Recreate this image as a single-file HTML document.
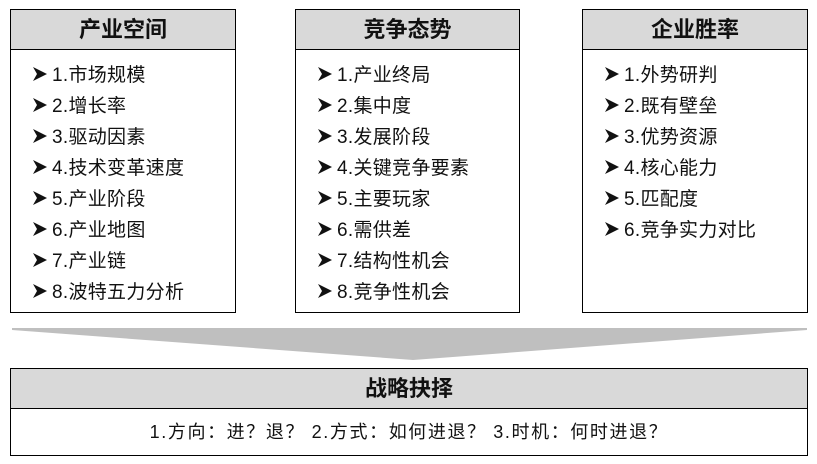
<!DOCTYPE html>
<html><head><meta charset="utf-8"><style>
body{margin:0;width:817px;height:464px;background:#fff;font-family:"Liberation Sans","Noto Sans CJK SC",sans-serif;position:relative;overflow:hidden}
.box{position:absolute;border:1.5px solid #000;box-sizing:border-box;background:#fff}
.hd{height:40px;background:#d9d9d9;border-bottom:1.5px solid #000;box-sizing:border-box;text-align:center;line-height:40px;font-size:22px;font-weight:bold;color:#111}
.it{position:absolute;left:22px;font-size:19px;letter-spacing:0.3px;color:#111;white-space:nowrap;line-height:22px}
.it svg{vertical-align:0px;margin-right:5px}
</style></head><body>
<svg width="0" height="0" style="position:absolute"><defs><symbol id="a" viewBox="0 0 14 14"><polygon points="0,0 14,7 0,14 4,7" fill="#111"/></symbol></defs></svg>
<div class="box" style="left:10px;top:9px;width:226px;height:304px"><div class="hd">产业空间</div>
<div class="it" style="top:55px"><svg width="14" height="14"><use href="#a"/></svg>1.市场规模</div>
<div class="it" style="top:86px"><svg width="14" height="14"><use href="#a"/></svg>2.增长率</div>
<div class="it" style="top:117px"><svg width="14" height="14"><use href="#a"/></svg>3.驱动因素</div>
<div class="it" style="top:148px"><svg width="14" height="14"><use href="#a"/></svg>4.技术变革速度</div>
<div class="it" style="top:179px"><svg width="14" height="14"><use href="#a"/></svg>5.产业阶段</div>
<div class="it" style="top:210px"><svg width="14" height="14"><use href="#a"/></svg>6.产业地图</div>
<div class="it" style="top:241px"><svg width="14" height="14"><use href="#a"/></svg>7.产业链</div>
<div class="it" style="top:272px"><svg width="14" height="14"><use href="#a"/></svg>8.波特五力分析</div>
</div>
<div class="box" style="left:295px;top:9px;width:225px;height:304px"><div class="hd">竞争态势</div>
<div class="it" style="top:55px"><svg width="14" height="14"><use href="#a"/></svg>1.产业终局</div>
<div class="it" style="top:86px"><svg width="14" height="14"><use href="#a"/></svg>2.集中度</div>
<div class="it" style="top:117px"><svg width="14" height="14"><use href="#a"/></svg>3.发展阶段</div>
<div class="it" style="top:148px"><svg width="14" height="14"><use href="#a"/></svg>4.关键竞争要素</div>
<div class="it" style="top:179px"><svg width="14" height="14"><use href="#a"/></svg>5.主要玩家</div>
<div class="it" style="top:210px"><svg width="14" height="14"><use href="#a"/></svg>6.需供差</div>
<div class="it" style="top:241px"><svg width="14" height="14"><use href="#a"/></svg>7.结构性机会</div>
<div class="it" style="top:272px"><svg width="14" height="14"><use href="#a"/></svg>8.竞争性机会</div>
</div>
<div class="box" style="left:582px;top:9px;width:226px;height:304px"><div class="hd">企业胜率</div>
<div class="it" style="top:55px"><svg width="14" height="14"><use href="#a"/></svg>1.外势研判</div>
<div class="it" style="top:86px"><svg width="14" height="14"><use href="#a"/></svg>2.既有壁垒</div>
<div class="it" style="top:117px"><svg width="14" height="14"><use href="#a"/></svg>3.优势资源</div>
<div class="it" style="top:148px"><svg width="14" height="14"><use href="#a"/></svg>4.核心能力</div>
<div class="it" style="top:179px"><svg width="14" height="14"><use href="#a"/></svg>5.匹配度</div>
<div class="it" style="top:210px"><svg width="14" height="14"><use href="#a"/></svg>6.竞争实力对比</div>
</div>
<svg style="position:absolute;left:0;top:0" width="817" height="464"><polygon points="12,328 807,328 807,330 413,360 12,330" fill="#bfbfbf"/></svg>
<div class="box" style="left:10px;top:368px;width:798px;height:88px"><div class="hd">战略抉择</div>
<div style="text-align:center;font-size:18px;letter-spacing:1.6px;line-height:46px;color:#111">1.方向：进？退？ 2.方式：如何进退？ 3.时机：何时进退？</div>
</div>
</body></html>
